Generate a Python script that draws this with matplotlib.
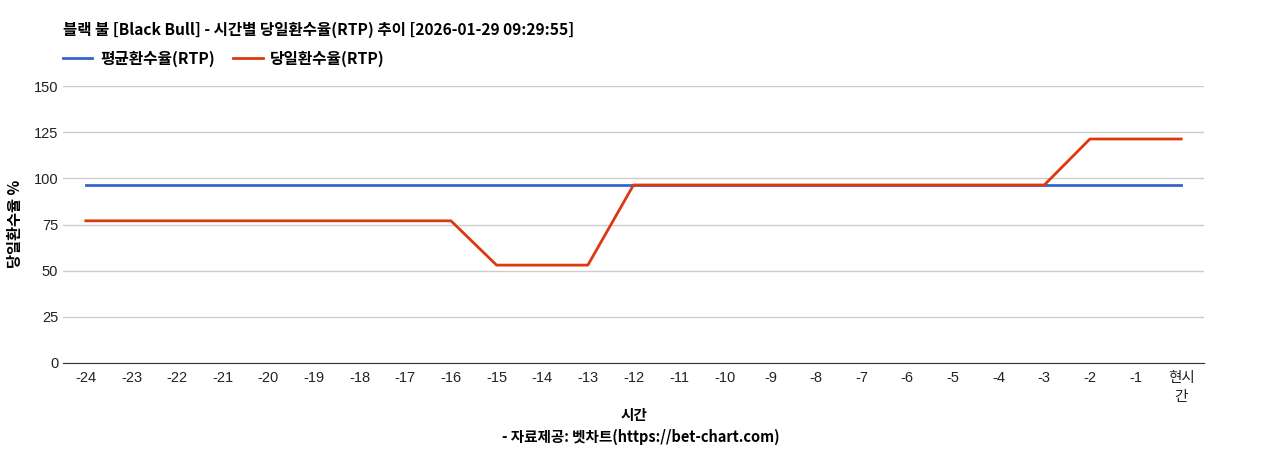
import matplotlib
matplotlib.use("Agg")
import matplotlib.pyplot as plt

plt.rcParams['font.family'] = ['Liberation Sans', 'Noto Sans CJK KR', 'DejaVu Sans']

hours = ["-24", "-23", "-22", "-21", "-20", "-19", "-18", "-17", "-16", "-15", "-14", "-13",
         "-12", "-11", "-10", "-9", "-8", "-7", "-6", "-5", "-4", "-3", "-2", "-1", "현시\n간"]
avg_rtp = [96.4] * 25
daily_rtp = [77.0] * 9 + [53.0] * 3 + [96.4] * 10 + [121.3] * 3

title = "블랙 불 [Black Bull] - 시간별 당일환수율(RTP) 추이 [2026-01-29 09:29:55]"
kr = ['Noto Sans CJK KR', 'DejaVu Sans']

fig = plt.figure(figsize=(12.68, 4.5), dpi=100)
ax = fig.add_axes([63 / 1268, 1 - 363 / 450, (1204 - 63) / 1268, 277 / 450])

x = list(range(len(hours)))
ax.plot(x, avg_rtp, color="#3366cc", lw=2, label="평균환수율(RTP)")
ax.plot(x, daily_rtp, color="#dc3912", lw=2, label="당일환수율(RTP)")

ax.set_xlim(-0.5, len(hours) - 0.5)
ax.set_ylim(0, 150)
ax.set_yticks([0, 25, 50, 75, 100, 125, 150])
ax.set_xticks(x)
ax.set_xticklabels(hours, fontsize=10.5, linespacing=1.4, va="top")
ax.tick_params(axis="both", length=0, labelsize=10.5, colors="#222222")
ax.tick_params(axis="x", pad=6)
ax.grid(axis="y", color="#cccccc", lw=1)
ax.set_axisbelow(True)
for s in ["top", "right", "left"]:
    ax.spines[s].set_visible(False)
ax.spines["bottom"].set_color("#333333")

fig.text(63 / 1268, 1 - 30 / 450, title, fontsize=11.2, fontweight="bold",
         family=kr, va="center", ha="left")
leg = ax.legend(loc="lower left", bbox_to_anchor=(0.0, 1.07), ncol=2, frameon=False,
                prop={'family': kr, 'weight': 'bold', 'size': 11.3},
                handlelength=1.85, columnspacing=1.2, handletextpad=0.5,
                borderaxespad=0, borderpad=0)

fig.text(15 / 1268, 1 - 224 / 450, "당일환수율 %", rotation=90, fontsize=11,
         fontweight="bold", family=kr, va="center", ha="center")
fig.text((63 + 1204) / 2 / 1268, 1 - 415 / 450, "시간", fontsize=10.5,
         fontweight="bold", family=kr, va="center", ha="center")
fig.text((63 + 1204) / 2 / 1268 + 7 / 1268, 1 - 437 / 450, "- 자료제공: 벳차트(https://bet-chart.com)",
         fontsize=10.5, fontweight="bold", family=kr, va="center", ha="center")

fig.savefig("out.png", dpi=100)
